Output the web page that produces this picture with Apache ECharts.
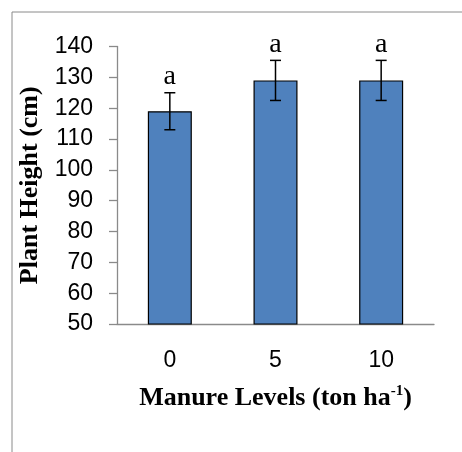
<!DOCTYPE html>
<html lang="en">
<head>
    <meta charset="UTF-8">
    <title>Plant Height</title>
    <script src="https://cdn.jsdelivr.net/npm/echarts@6/dist/echarts.min.js"></script>
    <style>
        body { margin: 0; background: #fff; }
    </style>
</head>
<body>
    <div id="main" style="width: 462px;height:452px;"></div>
    <script>
        // data
        var levels = ['0', '5', '10'];
        var heights = [119, 129, 129];
        var errors = [6, 6.5, 6.5];
        var letters = ['a', 'a', 'a'];

        var myChart = echarts.init(document.getElementById('main'));

        var errData = [];
        for (var i = 0; i < levels.length; i++) {
            errData.push([i, heights[i] - errors[i], heights[i] + errors[i], letters[i]]);
        }

        var option = {
            animation: false,
            graphic: [{
                type: 'rect',
                shape: { x: 12, y: 12, width: 470, height: 470 },
                style: { fill: 'none', stroke: '#8a8a8a', lineWidth: 1 }
            }],
            grid: {
                left: 117,
                top: 46.5,
                width: 317,
                height: 277.5
            },
            xAxis: {
                type: 'category',
                data: levels,
                name: 'Manure Levels (ton ha{sup|-1})',
                nameLocation: 'middle',
                nameGap: 60,
                nameTextStyle: {
                    fontFamily: 'Liberation Serif',
                    fontWeight: 'bold',
                    fontSize: 26,
                    color: '#000',
                    rich: {
                        sup: {
                            fontFamily: 'Liberation Serif',
                            fontWeight: 'bold',
                            fontSize: 15,
                            color: '#000',
                            padding: [0, 0, 14, 0]
                        }
                    }
                },
                axisLine: { lineStyle: { color: '#8a8a8a', width: 1.3 } },
                axisTick: { show: false },
                axisLabel: {
                    fontFamily: 'Liberation Sans',
                    fontSize: 23,
                    color: '#000',
                    margin: 25
                }
            },
            yAxis: {
                type: 'value',
                min: 50,
                max: 140,
                interval: 10,
                name: 'Plant Height (cm)',
                nameLocation: 'middle',
                nameGap: 72,
                nameTextStyle: {
                    fontFamily: 'Liberation Serif',
                    fontWeight: 'bold',
                    fontSize: 26,
                    color: '#000'
                },
                axisLine: { show: true, lineStyle: { color: '#8a8a8a', width: 1.3 } },
                axisTick: { show: true, length: 8, lineStyle: { color: '#8a8a8a', width: 1.3 } },
                splitLine: { show: false },
                axisLabel: {
                    fontFamily: 'Liberation Sans',
                    fontSize: 23,
                    color: '#000',
                    margin: 24
                }
            },
            series: [
                {
                    type: 'bar',
                    data: heights,
                    barWidth: 44,
                    itemStyle: {
                        color: '#4f81bd',
                        borderColor: '#000',
                        borderWidth: 1.2
                    }
                },
                {
                    type: 'custom',
                    data: errData,
                    z: 10,
                    renderItem: function (params, api) {
                        var lo = api.coord([api.value(0), api.value(1)]);
                        var hi = api.coord([api.value(0), api.value(2)]);
                        var cap = 5.5;
                        var st = { stroke: '#000', lineWidth: 1.5 };
                        return {
                            type: 'group',
                            children: [
                                { type: 'line', shape: { x1: hi[0], y1: hi[1], x2: lo[0], y2: lo[1] }, style: st },
                                { type: 'line', shape: { x1: hi[0] - cap, y1: hi[1], x2: hi[0] + cap, y2: hi[1] }, style: st },
                                { type: 'line', shape: { x1: lo[0] - cap, y1: lo[1], x2: lo[0] + cap, y2: lo[1] }, style: st },
                                {
                                    type: 'text',
                                    x: hi[0],
                                    y: hi[1] - 2,
                                    style: {
                                        text: api.value(3),
                                        fontFamily: 'Liberation Serif',
                                        fontSize: 28,
                                        fill: '#000',
                                        align: 'center',
                                        verticalAlign: 'bottom'
                                    }
                                }
                            ]
                        };
                    }
                }
            ]
        };
        myChart.setOption(option);
    </script>
</body>
</html>
